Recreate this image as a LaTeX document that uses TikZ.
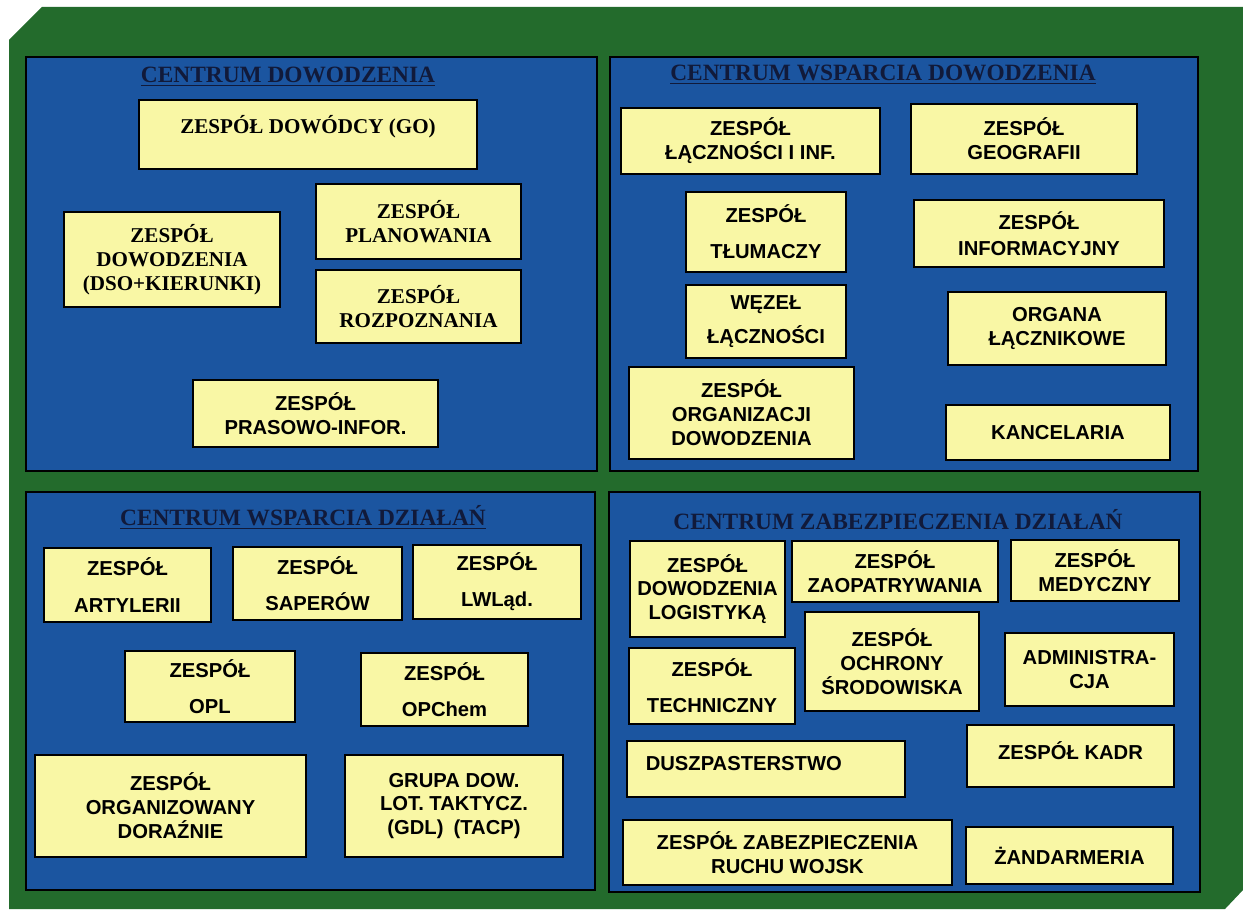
\documentclass[tikz,border=0pt]{standalone}
\usepackage{fontspec}
\setmainfont{Liberation Serif}
\setsansfont{Liberation Sans}
\usetikzlibrary{fit}
\definecolor{tlo}{HTML}{236B2C}
\definecolor{pole}{HTML}{1B55A0}
\definecolor{kartka}{HTML}{F9F7A5}
\definecolor{tytul}{HTML}{111A3A}
\begin{document}
\begin{tikzpicture}[x=0.02cm,y=-0.02cm,
  panel/.style={draw=black,line width=0.8pt,fill=pole,inner sep=0pt},
  tytl/.style={text=tytul,font=\fontsize{13.3}{15}\selectfont\rmfamily\bfseries},
  wym/.style 2 args={minimum width=#1*0.02cm,minimum height=#2*0.02cm},
  zbox/.style={draw=black,line width=0.9pt,fill=kartka,inner sep=0pt,align=center},
  serif/.style={zbox,font=\fontsize{12}{13.6}\selectfont\rmfamily\bfseries},
  sans/.style={zbox,font=\fontsize{11.5}{13.6}\selectfont\sffamily\bfseries}]
\useasboundingbox(0,0)rectangle(1243,909);
% tlo
\fill[tlo](42,7)--(1243,7)--(1243,890)--(1225,909)--(9,909)--(9,40)--cycle;
% cztery centra
\node[panel,fit={(26,57)(597,471)}](cd){};
\node[panel,fit={(610,57)(1198,471)}](cwd){};
\node[panel,fit={(26,492)(595,890)}](cwdz){};
\node[panel,fit={(609,492)(1200,892)}](czd){};
\node[tytl]at(288,77)(tcd){\underline{CENTRUM DOWODZENIA}};
\node[tytl]at(883,75)(tcwd){\underline{CENTRUM WSPARCIA DOWODZENIA}};
\node[tytl]at(303,517)(tcwdz){\underline{CENTRUM WSPARCIA DZIAŁAŃ}};
\node[tytl]at(898,520)(tczd){CENTRUM ZABEZPIECZENIA DZIAŁAŃ};
% centrum dowodzenia
\node[serif,wym={338}{69}]at(308,134.5)(go){ZESPÓŁ DOWÓDCY (GO)\\[-2pt]\mbox{}};
\node[serif,wym={216}{95}]at(172,259.5)(dso){ZESPÓŁ\\DOWODZENIA\\(DSO+KIERUNKI)};
\node[serif,wym={205}{75}]at(418.5,221.5)(plan){ZESPÓŁ\\PLANOWANIA};
\node[serif,wym={205}{73}]at(418.5,306.5)(rozp){ZESPÓŁ\\ROZPOZNANIA};
\node[sans,wym={245}{67}]at(315.5,413.5)(pras){ZESPÓŁ\\PRASOWO-INFOR.};
% centrum wsparcia dowodzenia
\node[sans,wym={259}{66}]at(750.5,141)(lacz){ZESPÓŁ\\ŁĄCZNOŚCI I INF.};
\node[sans,wym={226}{70}]at(1024,139)(geo){ZESPÓŁ\\GEOGRAFII};
\node[sans,wym={160}{80}]at(766,232)(tlum){ZESPÓŁ\\[7pt]TŁUMACZY};
\node[sans,wym={250}{67}]at(1039,233.5)(info){ZESPÓŁ\\[1pt]INFORMACYJNY};
\node[sans,wym={160}{73}]at(766,321.5)(wezel){WĘZEŁ\\[6pt]ŁĄCZNOŚCI};
\node[sans,wym={218}{73}]at(1057,328.5)(organa){ORGANA\\ŁĄCZNIKOWE};
\node[sans,wym={225}{92}]at(741.5,413)(orgdow){ZESPÓŁ\\ORGANIZACJI\\DOWODZENIA};
\node[sans,wym={224}{55}]at(1058,432.5)(kanc){KANCELARIA};
% centrum wsparcia dzialan
\node[sans,wym={167}{74}]at(127.5,585)(art){ZESPÓŁ\\[7pt]ARTYLERII};
\node[sans,wym={169}{73}]at(317.5,583.5)(sap){ZESPÓŁ\\[7pt]SAPERÓW};
\node[sans,wym={168}{74}]at(497,582)(lwlad){ZESPÓŁ\\[7pt]LWLąd.};
\node[sans,wym={170}{71}]at(210,686.5)(opl){ZESPÓŁ\\[7pt]OPL};
\node[sans,wym={167}{73}]at(444.5,689.5)(opchem){ZESPÓŁ\\[7pt]OPChem};
\node[sans,wym={271}{102}]at(170.5,806)(doraz){ZESPÓŁ\\ORGANIZOWANY\\DORAŹNIE};
\node[sans,wym={218}{102}]at(454,806)(gdl){GRUPA DOW.\\LOT. TAKTYCZ.\\(GDL)\enspace(TACP)};
% centrum zabezpieczenia dzialan
\node[sans,wym={155}{96}]at(707.5,589)(dowlog){ZESPÓŁ\\DOWODZENIA\\LOGISTYKĄ};
\node[sans,wym={206}{61}]at(895,571.5)(zaop){ZESPÓŁ\\ZAOPATRYWANIA};
\node[sans,wym={168}{61}]at(1095,570.5)(med){ZESPÓŁ\\MEDYCZNY};
\node[sans,wym={166}{76}]at(712,686)(tech){ZESPÓŁ\\[7pt]TECHNICZNY};
\node[sans,wym={174}{99}]at(892,661.5)(ochr){ZESPÓŁ\\OCHRONY\\ŚRODOWISKA};
\node[sans,wym={169}{73}]at(1089.5,669.5)(adm){ADMINISTRA-\\CJA};
\node[sans,wym={278}{56}]at(766,769)(dusz){DUSZPASTERSTWO\hspace{2.2em}\mbox{}\\[-7pt]\mbox{}};
\node[sans,wym={207}{62}]at(1070.5,756)(kadr){ZESPÓŁ KADR\\[-7pt]\mbox{}};
\node[sans,wym={329}{65}]at(787.5,852.5)(ruch){ZESPÓŁ ZABEZPIECZENIA\\RUCHU WOJSK};
\node[sans,wym={207}{57}]at(1069.5,855.5)(zand){ŻANDARMERIA};
\end{tikzpicture}
\end{document}
